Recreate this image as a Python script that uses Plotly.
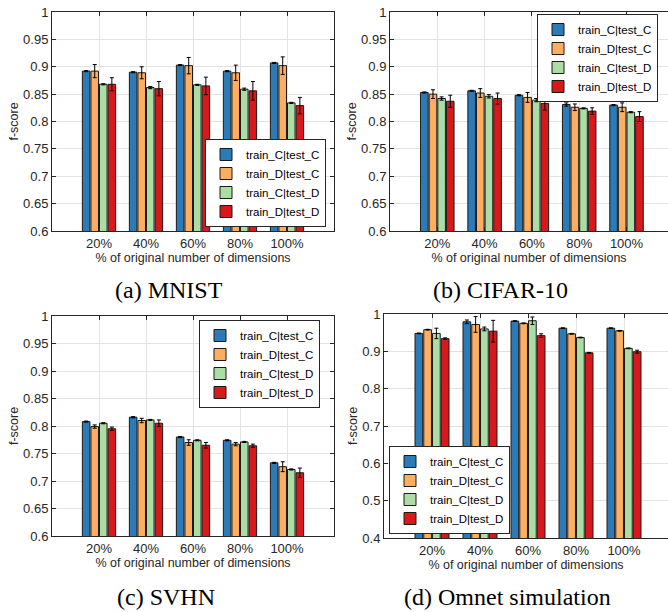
import plotly.graph_objects as go

W, H = 668, 612

categories = ["20%", "40%", "60%", "80%", "100%"]
series_names = ["train_C|test_C", "train_D|test_C", "train_C|test_D", "train_D|test_D"]

# MNIST
mnist_tc_tc = [0.892, 0.890, 0.903, 0.892, 0.907]
mnist_td_tc = [0.892, 0.889, 0.902, 0.889, 0.902]
mnist_tc_td = [0.868, 0.862, 0.867, 0.859, 0.834]
mnist_td_td = [0.868, 0.860, 0.865, 0.856, 0.829]
mnist_err_tc_tc = [0.001, 0.001, 0.001, 0.001, 0.001]
mnist_err_td_tc = [0.012, 0.011, 0.015, 0.014, 0.016]
mnist_err_tc_td = [0.001, 0.002, 0.001, 0.002, 0.001]
mnist_err_td_td = [0.012, 0.013, 0.016, 0.017, 0.015]

# CIFAR-10
cifar_tc_tc = [0.853, 0.856, 0.848, 0.831, 0.830]
cifar_td_tc = [0.850, 0.852, 0.844, 0.826, 0.826]
cifar_tc_td = [0.842, 0.846, 0.839, 0.824, 0.817]
cifar_td_td = [0.837, 0.842, 0.833, 0.819, 0.809]
cifar_err_tc_tc = [0.001, 0.001, 0.001, 0.003, 0.001]
cifar_err_td_tc = [0.008, 0.008, 0.009, 0.006, 0.008]
cifar_err_tc_td = [0.003, 0.003, 0.003, 0.001, 0.001]
cifar_err_td_td = [0.011, 0.010, 0.012, 0.006, 0.009]

# SVHN
svhn_tc_tc = [0.808, 0.816, 0.780, 0.774, 0.733]
svhn_td_tc = [0.799, 0.810, 0.770, 0.767, 0.726]
svhn_tc_td = [0.805, 0.811, 0.774, 0.771, 0.721]
svhn_td_td = [0.795, 0.805, 0.765, 0.764, 0.715]
svhn_err_tc_tc = [0.001, 0.001, 0.001, 0.001, 0.001]
svhn_err_td_tc = [0.003, 0.004, 0.005, 0.003, 0.009]
svhn_err_tc_td = [0.001, 0.001, 0.001, 0.001, 0.001]
svhn_err_td_td = [0.003, 0.006, 0.005, 0.003, 0.0085]

# Omnet simulation
omnet_tc_tc = [0.948, 0.979, 0.981, 0.962, 0.962]
omnet_td_tc = [0.958, 0.972, 0.975, 0.947, 0.955]
omnet_tc_td = [0.948, 0.960, 0.982, 0.937, 0.908]
omnet_td_td = [0.934, 0.954, 0.942, 0.896, 0.899]
omnet_err_tc_tc = [0.001, 0.005, 0.001, 0.001, 0.001]
omnet_err_td_tc = [0.001, 0.021, 0.001, 0.001, 0.001]
omnet_err_tc_td = [0.014, 0.005, 0.010, 0.001, 0.001]
omnet_err_td_td = [0.002, 0.029, 0.005, 0.001, 0.004]

ytick_vals_a = [0.6, 0.65, 0.7, 0.75, 0.8, 0.85, 0.9, 0.95, 1.0]
ytick_text_a = ["0.6", "0.65", "0.7", "0.75", "0.8", "0.85", "0.9", "0.95", "1"]
ytick_vals_d = [0.4, 0.5, 0.6, 0.7, 0.8, 0.9, 1.0]
ytick_text_d = ["0.4", "0.5", "0.6", "0.7", "0.8", "0.9", "1"]

captions = ["(a) MNIST", "(b) CIFAR-10", "(c) SVHN", "(d) Omnet simulation"]
xlabel = "% of original number of dimensions"
ylabel = "f-score"

colors = ["#2c7bb6", "#fdae61", "#abdda4", "#d7191c"]

panels = [
    ([mnist_tc_tc, mnist_td_tc, mnist_tc_td, mnist_td_td],
     [mnist_err_tc_tc, mnist_err_td_tc, mnist_err_tc_td, mnist_err_td_td]),
    ([cifar_tc_tc, cifar_td_tc, cifar_tc_td, cifar_td_td],
     [cifar_err_tc_tc, cifar_err_td_tc, cifar_err_tc_td, cifar_err_td_td]),
    ([svhn_tc_tc, svhn_td_tc, svhn_tc_td, svhn_td_td],
     [svhn_err_tc_tc, svhn_err_td_tc, svhn_err_tc_td, svhn_err_td_td]),
    ([omnet_tc_tc, omnet_td_tc, omnet_tc_td, omnet_td_td],
     [omnet_err_tc_tc, omnet_err_td_tc, omnet_err_tc_td, omnet_err_td_td]),
]

# pixel boxes of plot areas: (x0, x1, y0_top, y1_bottom, xmax_range)
boxes = [
    (52, 334, 12, 231, 6.0),
    (390, 668, 12, 231, (668 - 390) / 47.3),
    (52, 334, 316, 536, 6.0),
    (384, 668, 314, 538, (668 - 384) / 48.0),
]
yranges = [(0.6, 1.0), (0.6, 1.0), (0.6, 1.0), (0.4, 1.0)]
yticks = [(ytick_vals_a, ytick_text_a)] * 3 + [(ytick_vals_d, ytick_text_d)]

legend_pos = [
    dict(x=326 / W, y=1 - 227 / H, xanchor="right", yanchor="bottom"),
    dict(x=658 / W, y=1 - 14 / H, xanchor="right", yanchor="top"),
    dict(x=320 / W, y=1 - 320 / H, xanchor="right", yanchor="top"),
    dict(x=389 / W, y=1 - 534 / H, xanchor="left", yanchor="bottom"),
]

caption_pos = [(169, 290), (500, 290), (166, 597), (507, 597)]

AX = "#262626"
GRID = "#e3e3e3"
FONT = "Liberation Sans, Arial, Helvetica, sans-serif"

fig = go.Figure()
xcat = [1, 2, 3, 4, 5]
layout = {}
for i, ((vals, errs), box) in enumerate(zip(panels, boxes)):
    sfx = "" if i == 0 else str(i + 1)
    leg = "legend" + sfx
    for j in range(4):
        fig.add_trace(go.Bar(
            x=xcat, y=vals[j], name=series_names[j],
            marker=dict(color=colors[j], line=dict(color="#1a1a1a", width=1)),
            error_y=dict(type="data", array=errs[j], color="black", thickness=1, width=2),
            xaxis="x" + sfx, yaxis="y" + sfx, legend=leg,
        ))
    x0, x1, y0, y1, xmax = box
    right_clipped = i in (1, 3)
    layout["xaxis" + sfx] = dict(
        domain=[x0 / W, x1 / W], anchor="y" + sfx, range=[0, xmax],
        tickvals=xcat, ticktext=categories, ticks="inside", ticklen=4, tickcolor=AX,
        showline=True, linecolor=AX, linewidth=1, mirror="ticks",
        showgrid=True, gridcolor=GRID, gridwidth=1, zeroline=False, automargin=False,
        tickfont=dict(family=FONT, size=13, color=AX),
        title=dict(text=xlabel, font=dict(family=FONT, size=12.5, color=AX), standoff=2),
    )
    yv, yt = yticks[i]
    layout["yaxis" + sfx] = dict(
        domain=[1 - y1 / H, 1 - y0 / H], anchor="x" + sfx, range=list(yranges[i]),
        tickvals=yv, ticktext=yt, ticks="inside", ticklen=4, tickcolor=AX,
        showline=True, linecolor=AX, linewidth=1,
        mirror=False if right_clipped else "ticks",
        showgrid=True, gridcolor=GRID, gridwidth=1, zeroline=False, automargin=False,
        tickfont=dict(family=FONT, size=13, color=AX),
        title=dict(text=ylabel, font=dict(family=FONT, size=12.5, color=AX), standoff=1),
    )
    layout[leg] = dict(
        **legend_pos[i], bgcolor="white", bordercolor=AX, borderwidth=1,
        font=dict(family=FONT, size=11.5, color="black"),
        tracegroupgap=0, itemwidth=30,
    )

annotations = []
for cap, (cx, cy) in zip(captions, caption_pos):
    annotations.append(dict(
        text=cap, x=cx / W, y=1 - cy / H, xref="paper", yref="paper",
        xanchor="center", yanchor="middle", showarrow=False,
        font=dict(family="Liberation Serif, Times New Roman, serif", size=24, color="black"),
    ))

fig.update_layout(
    **layout,
    width=W, height=H,
    margin=dict(l=0, r=0, t=0, b=0, autoexpand=False),
    paper_bgcolor="white", plot_bgcolor="white",
    barmode="group", bargap=0.27, bargroupgap=0.12,
    annotations=annotations,
    showlegend=True,
)

fig.write_html(
    "out.html",
    config={"displayModeBar": False},
    post_script="document.body.style.margin='0';document.body.style.padding='0';"
                "document.documentElement.style.overflow='hidden';",
)
